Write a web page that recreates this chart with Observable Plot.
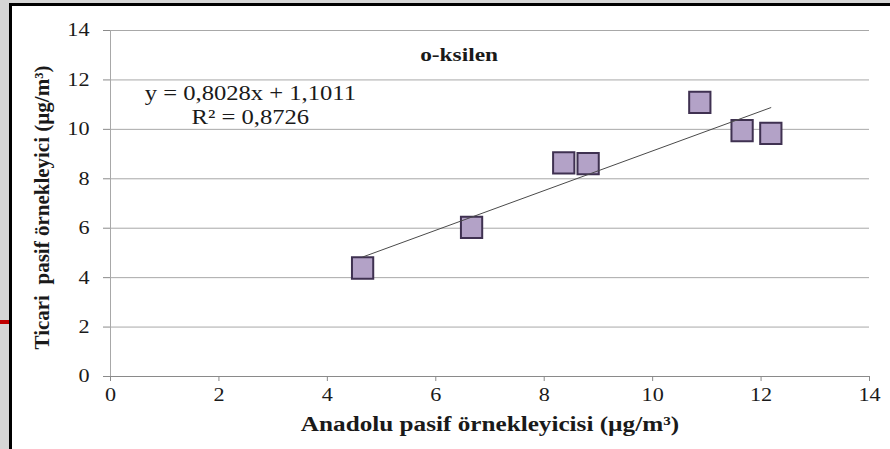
<!DOCTYPE html>
<html>
<head>
<meta charset="utf-8">
<script src="https://cdn.jsdelivr.net/npm/d3@7"></script>
<script src="https://cdn.jsdelivr.net/npm/@observablehq/plot@0.6"></script>
<style>
  html, body { margin: 0; padding: 0; background: #d6d6d6; }
  #chart { width: 890px; height: 449px; }
  #chart svg { max-width: none !important; display: block; }
</style>
</head>
<body>
<div id="chart"></div>
<script>
// Data
const anadolu = [4.65, 6.66, 8.36, 8.81, 10.87, 11.65, 12.18];
const ticari  = [4.39, 6.03, 8.64, 8.61, 11.09, 9.95, 9.84];
const xTicks = [0, 2, 4, 6, 8, 10, 12, 14];
const yTicks = [0, 2, 4, 6, 8, 10, 12, 14];
const slope = 0.8028;
const intercept = 1.1011;
const title = "o-ksilen";
const eqText = "y = 0,8028x + 1,1011";
const r2Text = "R² = 0,8726";
const xLabel = "Anadolu pasif örnekleyicisi (µg/m³)";
const yLabel = "Ticari  pasif örnekleyici (µg/m³)";

const points = anadolu.map((x, i) => ({x, y: ticari[i]}));
const xExt = d3.extent(anadolu);
const fitLine = xExt.map(x => ({x, y: slope * x + intercept}));

const font = "Liberation Serif";
const ink = "#1a1a1a";
const stretch = 1.2; // the reference's text is horizontally widened

const chart = Plot.plot({
  width: 890,
  height: 449,
  marginLeft: 110,
  marginRight: 21,
  marginTop: 30,
  marginBottom: 73,
  style: {fontFamily: font},
  x: {domain: [0, 14], ticks: xTicks},
  y: {domain: [0, 14], ticks: yTicks},
  marks: [
    Plot.gridY(yTicks.filter(d => d > 0), {stroke: "#a8a8a8", strokeOpacity: 1, strokeWidth: 1}),
    Plot.ruleX([0], {stroke: "#a8a8a8", strokeWidth: 1}),
    Plot.ruleY([0], {stroke: "#8a8a8a", strokeWidth: 1}),
    Plot.axisY({ticks: yTicks, tickSize: 7, stroke: "#8a8a8a", tickFormat: () => "", label: null}),
    Plot.axisX({ticks: xTicks, tickSize: 5, stroke: "#8a8a8a", tickFormat: () => "", label: null}),
    Plot.text(yTicks, {y: d => d, frameAnchor: "left", dx: -21, textAnchor: "end", text: d => String(d), fontFamily: font, fontSize: 18.5, fill: ink}),
    Plot.text(xTicks, {x: d => d, frameAnchor: "bottom", dy: 24, text: d => String(d), fontFamily: font, fontSize: 18.5, fill: ink}),
    Plot.dot(points, {x: "x", y: "y", symbol: "square", r: 12, fill: "#b3a2c7", stroke: "#3f3151", strokeWidth: 2}),
    Plot.line(fitLine, {x: "x", y: "y", stroke: "#4a4a4a", strokeWidth: 1}),
    Plot.text([title], {x: 6.43, y: 13.02, text: d => d, fontFamily: font, fontWeight: "bold", fontSize: 19.5, fill: ink}),
    Plot.text([eqText], {x: 2.58, y: 11.44, text: d => d, fontFamily: font, fontSize: 20.5, fill: ink}),
    Plot.text([r2Text], {x: 2.58, y: 10.47, text: d => d, fontFamily: font, fontSize: 20.5, fill: ink}),
    Plot.text([xLabel], {frameAnchor: "bottom", dy: 54, text: d => d, fontFamily: font, fontWeight: "bold", fontSize: 21, fill: ink}),
    Plot.text([yLabel], {frameAnchor: "left", dx: -68, dy: 4, rotate: -90, textAnchor: "middle", text: d => d, fontFamily: font, fontWeight: "bold", fontSize: 21, fill: ink})
  ]
});

const svg = d3.select(chart);

// Widen the horizontal texts about their anchor point, as in the reference
svg.selectAll("text").each(function() {
  const t = this.getAttribute("transform") || "";
  if (t.includes("rotate")) return;
  const x = +(this.getAttribute("x") || 0);
  this.setAttribute("transform", `${t} translate(${x},0) scale(${stretch},1) translate(${-x},0)`.trim());
});

// Page decoration behind the chart (slide background, frame border, red accent)
const deco = svg.insert("g", ":first-child").attr("aria-label", "decoration");
deco.append("rect").attr("x", 0).attr("y", 0).attr("width", 890).attr("height", 449).attr("fill", "#d6d6d6");
deco.append("rect").attr("x", 9).attr("y", 3).attr("width", 881).attr("height", 446).attr("fill", "#ffffff");
deco.append("rect").attr("x", 9).attr("y", 3).attr("width", 3).attr("height", 446).attr("fill", "#000");
deco.append("rect").attr("x", 9).attr("y", 3).attr("width", 881).attr("height", 3).attr("fill", "#000");
deco.append("rect").attr("x", 0).attr("y", 320).attr("width", 9).attr("height", 4).attr("fill", "#c00000");

document.getElementById("chart").appendChild(chart);
</script>
</body>
</html>
